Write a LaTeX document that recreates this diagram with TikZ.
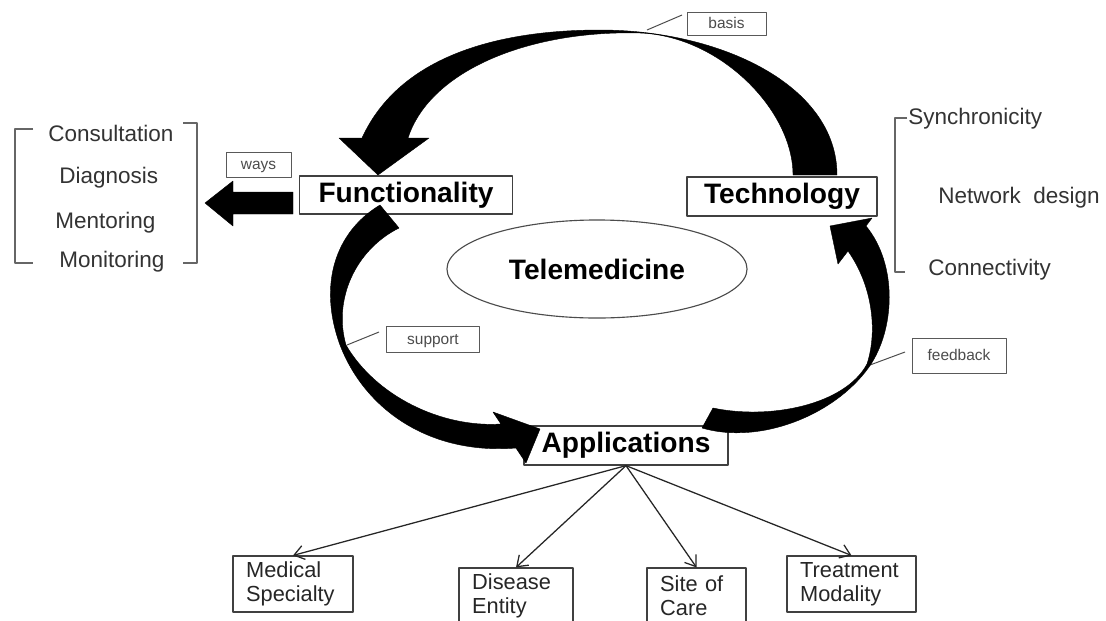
\documentclass[tikz,border=0pt]{standalone}
\usepackage{fontspec}
\setmainfont{Liberation Sans}
\usetikzlibrary{arrows.meta,shapes.geometric}

\begin{document}
\begin{tikzpicture}[
    x=0.025cm, y=-0.025cm,
    line join=round,
    %
    mainbox/.style={draw=black!75, line width=0.9pt, rectangle, inner sep=0pt,
        font=\fontsize{20}{24}\selectfont\bfseries},
    tagbox/.style={draw=black!65, line width=0.7pt, rectangle, inner sep=0pt,
        text height=0.8em, text depth=0.08em,
        text=black!70, font=\fontsize{11}{13}\selectfont},
    leafbox/.style={draw=black!75, line width=0.8pt, rectangle, inner xsep=0.33cm,
        minimum height=1.4cm, align=left, text=black!85,
        font=\fontsize{15.5}{16.8}\selectfont},
    item/.style={inner sep=0pt, anchor=base west, text=black!80,
        font=\fontsize{16}{19}\selectfont},
    %
    band/.style={fill=black, draw=black, line width=0.3pt},
    leader/.style={draw=black!70, line width=0.7pt},
    brace/.style={draw=black!60, line width=0.8pt},
    pre/.style={-{Straight Barb[length=7pt,width=10pt]}, draw=black!85, line width=0.9pt}
    ]

    \useasboundingbox (0,0) rectangle (1106,620);
    \clip (0,0) rectangle (1106,620);
    \fill[white] (0,0) rectangle (1106,620);

    % main boxes
    \node[mainbox, minimum width=5.325cm, minimum height=0.95cm]  (func) at (406,195)   {Functionality};
    \node[mainbox, minimum width=4.75cm,  minimum height=0.975cm] (tech) at (782,196.5) {Technology};
    \node[mainbox, minimum width=5.1cm,   minimum height=0.975cm] (app)  at (626,445.5) {Applications};
    \node[ellipse, draw=black!70, line width=0.8pt, minimum width=7.5cm, minimum height=2.45cm,
          font=\fontsize{20}{24}\selectfont\bfseries] (tele) at (597,269) {Telemedicine};

    % small tags
    \node[tagbox, minimum width=1.975cm, minimum height=0.575cm] (basis)    at (726.5,23.5) {basis};
    \node[tagbox, minimum width=1.625cm, minimum height=0.625cm] (ways)     at (258.5,164.5) {ways};
    \node[tagbox, minimum width=2.3cm,   minimum height=0.65cm]  (support)  at (433,339)   {support};
    \node[tagbox, minimum width=2.35cm,  minimum height=0.875cm] (feedback) at (959,355.5) {feedback};

    \coordinate (bas-a) at (647,30);  \coordinate (bas-b) at (682,15);
    \coordinate (sup-a) at (347,345); \coordinate (sup-b) at (379,332);
    \coordinate (fee-a) at (870,365); \coordinate (fee-b) at (905,352);
    \draw[leader] (bas-a) -- (bas-b);
    \draw[leader] (sup-a) -- (sup-b);
    \draw[leader] (fee-a) -- (fee-b);

    % functions
    \node[item] (cons) at (48,141) {Consultation};
    \node[item] (diag) at (59,183) {Diagnosis};
    \node[item] (ment) at (55,228) {Mentoring};
    \node[item] (moni) at (59,267) {Monitoring};
    \draw[brace] (33,129) -- (15,129) -- (15,263) -- (33,263);
    \draw[brace] (183,123) -- (197,123) -- (197,263) -- (183,263);

    % technology
    \node[item] (sync) at (908,124) {Synchronicity};
    \node[item] (netw) at (938,203) {Network\ \ design};
    \node[item] (conn) at (928,275) {Connectivity};
    \draw[brace] (907,118) -- (895,118) -- (895,272) -- (905,272);

    % applications
    \node[leafbox, minimum width=3cm,     text width=2.34cm]  (med)   at (293,584)   {Medical\\Specialty};
    \node[leafbox, minimum width=2.85cm,  text width=2.19cm]  (dis)   at (516,596)   {Disease\\Entity};
    \node[leafbox, minimum width=2.475cm, text width=1.815cm] (site)  at (696.5,596) {Site of\\Care};
    \node[leafbox, minimum width=3.225cm, text width=2.565cm] (treat) at (851.5,584) {Treatment\\Modality};
    \foreach \leaf in {med,dis,site,treat}
        \draw[pre] (app.south) -- (\leaf.north);

    % block arrow to the functions
    \fill[band] (293,192) -- (233,192) -- (233,181) -- (205,203) -- (233,226) -- (233,214) -- (293,214) -- cycle;

    % basis: technology -> functionality
    \fill[band] (793,175) -- (837,175) .. controls (837,85) and (720,30) .. (600,30)
        .. controls (500,30) and (400,55) .. (362,138) -- (339,138) -- (378,175) -- (429,138) -- (408,138)
        .. controls (430,70) and (530,30) .. (640,33) .. controls (720,36) and (793,110) .. (793,175) -- cycle;

    % support: functionality -> applications
    \fill[band] (380,205) .. controls (335,232) and (318,285) .. (340,345)
        .. controls (365,410) and (430,455) .. (516,448) -- (526,463) -- (540,429) -- (493,412) -- (501,424)
        .. controls (440,428) and (375,395) .. (346,345) .. controls (333,300) and (355,250) .. (399,228) -- cycle;

    % feedback: applications -> technology
    \fill[band] (702,428) .. controls (760,445) and (835,415) .. (869,367)
        .. controls (895,330) and (898,265) .. (866,226) -- (872,218) -- (830,226) -- (838,264) -- (848,251)
        .. controls (872,285) and (878,330) .. (867,364) .. controls (845,405) and (770,420) .. (713,408) -- cycle;

\end{tikzpicture}
\end{document}
